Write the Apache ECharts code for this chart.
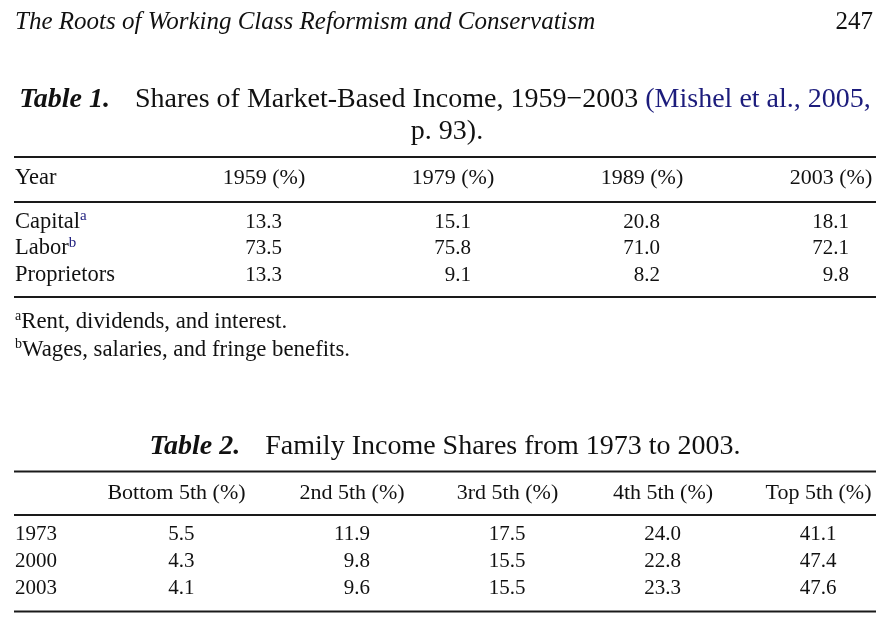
<!DOCTYPE html>
<html>
<head>
<meta charset="utf-8">
<title>Market-based and family income shares</title>
<script src="https://cdn.jsdelivr.net/npm/echarts@6/dist/echarts.min.js"></script>
<style>
  html, body { margin: 0; padding: 0; background: #fff; }
  #main { width: 894px; height: 638px; }
</style>
</head>
<body>
<div id="main"></div>
<script>
// Table 1: shares of market-based income
var t1Corner = 'Year';
var t1Years = ['1959 (%)', '1979 (%)', '1989 (%)', '2003 (%)'];
var t1Rows = ['Capital', 'Labor', 'Proprietors'];
var t1Notes = ['a', 'b', ''];
var t1Capital = [13.3, 15.1, 20.8, 18.1];
var t1Labor = [73.5, 75.8, 71.0, 72.1];
var t1Proprietors = [13.3, 9.1, 8.2, 9.8];

// Table 2: family income shares by fifth
var t2Fifths = ['Bottom 5th (%)', '2nd 5th (%)', '3rd 5th (%)', '4th 5th (%)', 'Top 5th (%)'];
var t2Years = ['1973', '2000', '2003'];
var t2Y1973 = [5.5, 11.9, 17.5, 24.0, 41.1];
var t2Y2000 = [4.3, 9.8, 15.5, 22.8, 47.4];
var t2Y2003 = [4.1, 9.6, 15.5, 23.3, 47.6];

var serif = '"Liberation Serif", "Times New Roman", serif';
var ink = '#111';
var linkBlue = '#1c1c7c';

// turn row arrays into [col, row, value] cells, for columns from..to-1
function cells(rows, from, to) {
  var out = [];
  rows.forEach(function (vals, r) {
    for (var c = from; c < to; c++) out.push([c - from, r, vals[c]]);
  });
  return out;
}

function cellSeries(xi, data) {
  return {
    type: 'scatter',
    xAxisIndex: xi,
    yAxisIndex: xi,
    silent: true,
    symbolSize: 0,
    itemStyle: { color: ink, opacity: 1 },
    emphasis: { disabled: true },
    data: data,
    label: {
      show: true,
      position: 'inside',
      align: 'right',
      verticalAlign: 'middle',
      offset: [18, 0],
      fontFamily: serif,
      fontSize: 21,
      color: ink,
      textBorderWidth: 0,
      opacity: 1,
      formatter: function (p) { return p.value[2].toFixed(1); }
    }
  };
}

function headAxis(gi, names, margin, gap) {
  return {
    gridIndex: gi,
    type: 'category',
    data: names,
    position: 'top',
    boundaryGap: gap,
    axisLine: { show: false },
    axisTick: { show: false },
    splitLine: { show: false },
    axisLabel: {
      interval: 0,
      margin: margin,
      verticalAlign: 'middle',
      fontFamily: serif,
      fontSize: 22,
      color: ink
    }
  };
}

function rowAxis(gi, names, margin, notes, size) {
  return {
    gridIndex: gi,
    type: 'category',
    data: names,
    inverse: true,
    axisLine: { show: false },
    axisTick: { show: false },
    splitLine: { show: false },
    axisLabel: {
      show: margin !== null,
      interval: 0,
      align: 'left',
      margin: margin || 0,
      fontFamily: serif,
      fontSize: size,
      lineHeight: 26,
      color: ink,
      formatter: function (v, i) {
        return notes && notes[i] ? v + '{sup|' + notes[i] + '}' : v;
      },
      rich: {
        sup: { fontFamily: serif, fontSize: 15, color: linkBlue, verticalAlign: 'top', lineHeight: 15 }
      }
    }
  };
}

function rule(y) {
  return { type: 'rect', shape: { x: 14, y: y - 1, width: 862, height: 2 }, style: { fill: '#1a1a1a' }, silent: true };
}

function text(str, x, y, size, align, extra) {
  var st = {
    text: str, x: x, y: y, fill: ink,
    fontFamily: serif, fontSize: size,
    align: align, verticalAlign: 'middle'
  };
  for (var k in extra) st[k] = extra[k];
  return { type: 'text', style: st, silent: true };
}

var noteSup = { s: { fontFamily: serif, fontSize: 14, verticalAlign: 'top', lineHeight: 14, fill: ink } };
var captionRich = {
  b: { fontFamily: serif, fontSize: 28, fontWeight: 'bold', fontStyle: 'italic', fill: ink },
  g: { width: 25 },
  l: { fontFamily: serif, fontSize: 28, fill: linkBlue }
};

var chart = echarts.init(document.getElementById('main'));

chart.setOption({
  animation: false,
  grid: [
    { left: 264, right: 63, top: 208.75, height: 79.5 },
    { left: 126.5, width: 100, top: 521.2, height: 81 },
    { left: 352, right: 75.5, top: 521.2, height: 81 }
  ],
  xAxis: [
    headAxis(0, t1Years, 30.75, false),
    headAxis(1, t2Fifths.slice(0, 1), 28.2, true),
    headAxis(2, t2Fifths.slice(1), 28.2, false)
  ],
  yAxis: [
    rowAxis(0, t1Rows, 249, t1Notes, 22.5),
    rowAxis(1, t2Years, 111.5, null, 21),
    rowAxis(2, t2Years, null, null, 21)
  ],
  series: [
    cellSeries(0, cells([t1Capital, t1Labor, t1Proprietors], 0, 4)),
    cellSeries(1, cells([t2Y1973, t2Y2000, t2Y2003], 0, 1)),
    cellSeries(2, cells([t2Y1973, t2Y2000, t2Y2003], 1, 5))
  ],
  graphic: [
    text('The Roots of Working Class Reformism and Conservatism', 15, 22, 25, 'left', { fontStyle: 'italic' }),
    text('247', 873, 22, 25, 'right'),
    text('{b|Table 1.}{g|}Shares of Market-Based Income, 1959\u22122003 {l|(Mishel et al., 2005,}', 445, 100, 28, 'center', { rich: captionRich }),
    text('p. 93).', 447, 132, 28, 'center'),
    rule(157),
    text(t1Corner, 15, 178, 22.5, 'left'),
    rule(202),
    rule(297),
    text('{s|a}Rent, dividends, and interest.', 15, 322, 22.8, 'left', { rich: noteSup, lineHeight: 26 }),
    text('{s|b}Wages, salaries, and fringe benefits.', 15, 350, 22.8, 'left', { rich: noteSup, lineHeight: 26 }),
    text('{b|Table 2.}{g|}Family Income Shares from 1973 to 2003.', 445, 447, 28, 'center', { rich: captionRich }),
    rule(471.5),
    rule(515),
    rule(611.5)
  ]
});
</script>
</body>
</html>
